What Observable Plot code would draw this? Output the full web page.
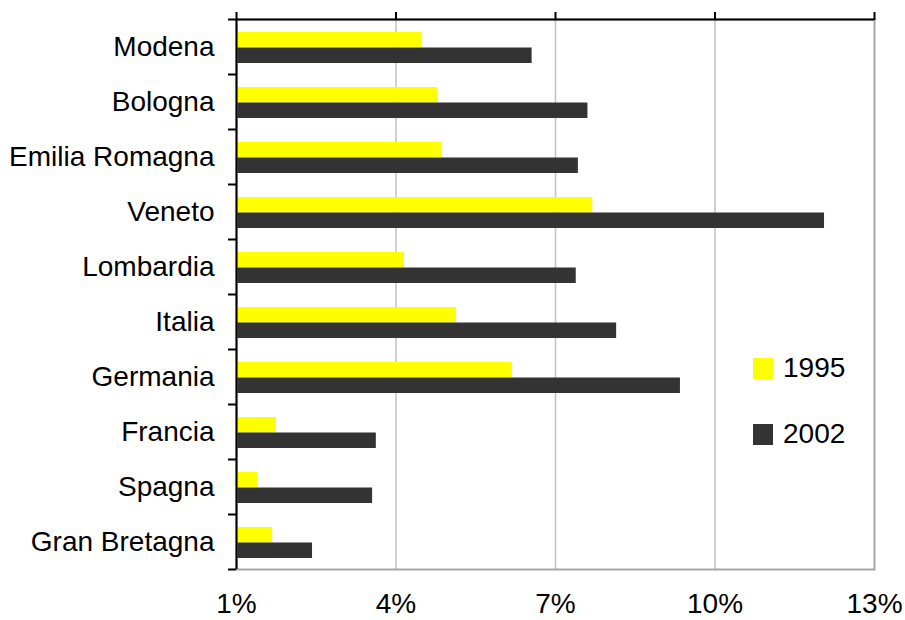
<!DOCTYPE html>
<html>
<head>
<meta charset="utf-8">
<script src="https://cdn.jsdelivr.net/npm/d3@7"></script>
<script src="https://cdn.jsdelivr.net/npm/@observablehq/plot@0.6"></script>
<style>
  body { margin: 0; background: #fff; overflow: hidden; }
  #chart { position: relative; width: 905px; height: 620px; font-family: "Liberation Sans", Arial, sans-serif; }
  #chart svg { display: block; }
  .legend { position: absolute; left: 753px; top: 346px; font-size: 28px; color: #000; }
  .legend .item { display: flex; align-items: center; height: 44px; margin-bottom: 22px; }
  .legend .swatch { width: 20px; height: 21px; margin-right: 10px; }
</style>
</head>
<body>
<div id="chart"></div>
<script>
// Regions and growth rates (%) for the two reference years
const regions = ["Modena", "Bologna", "Emilia Romagna", "Veneto", "Lombardia", "Italia", "Germania", "Francia", "Spagna", "Gran Bretagna"];
const values1995 = [4.49, 4.79, 4.87, 7.70, 4.16, 5.14, 6.19, 1.75, 1.41, 1.68];
const values2002 = [6.56, 7.61, 7.43, 12.06, 7.39, 8.15, 9.35, 3.63, 3.56, 2.43];
const years = ["1995", "2002"];
const yearColors = ["#ffff00", "#333333"];
const xTicks = [1, 4, 7, 10, 13];

const width = 905, height = 620;
const marginTop = 19, marginBottom = 51, marginLeft = 236, marginRight = 31;
const step = (height - marginTop - marginBottom) / regions.length;

const rows1995 = regions.map((region, i) => ({region, year: years[0], value: values1995[i]}));
const rows2002 = regions.map((region, i) => ({region, year: years[1], value: values2002[i]}));

const chart = Plot.plot({
  width, height, marginTop, marginBottom, marginLeft, marginRight,
  style: {fontSize: "28px", fontFamily: "'Liberation Sans', Arial, sans-serif", color: "#000", background: "#fff", overflow: "visible"},
  x: {domain: [xTicks[0], xTicks[xTicks.length - 1]]},
  y: {domain: regions, padding: 0},
  marks: [
    Plot.gridX(xTicks.slice(1, -1), {stroke: "#c0c0c0", strokeOpacity: 1, strokeWidth: 1.5}),
    Plot.barX(rows1995, {y: "region", x1: xTicks[0], x2: "value", fill: yearColors[0], insetTop: 13, insetBottom: 26.5}),
    Plot.barX(rows2002, {y: "region", x1: xTicks[0], x2: "value", fill: yearColors[1], insetTop: 28.5, insetBottom: 11}),
    Plot.frame({stroke: "#a6a6a6", strokeWidth: 2}),
    // black left axis line and top axis line
    Plot.ruleX([xTicks[0]], {stroke: "#000", strokeWidth: 2}),
    Plot.ruleY([regions[0]], {dy: -step / 2, stroke: "#000", strokeWidth: 2}),
    // top tick marks, no labels
    Plot.axisX(xTicks, {anchor: "top", tickSize: 8, fill: "none", label: null, strokeWidth: 2}),
    // bottom percentage labels
    Plot.axisX(xTicks, {anchor: "bottom", tickSize: 0, tickPadding: 24, tickFormat: d => d + "%", label: null}),
    // region labels
    Plot.axisY({tickSize: 0, tickPadding: 22, label: null}),
    // tick marks on the band boundaries
    Plot.axisY(regions, {tickSize: 8, dy: -step / 2, fill: "none", label: null, strokeWidth: 2}),
    Plot.axisY([regions[regions.length - 1]], {tickSize: 8, dy: step / 2, fill: "none", label: null, strokeWidth: 2})
  ]
});

const root = document.getElementById("chart");
root.appendChild(chart);

const legend = document.createElement("div");
legend.className = "legend";
years.forEach((year, i) => {
  const item = document.createElement("div");
  item.className = "item";
  const sw = document.createElement("div");
  sw.className = "swatch";
  sw.style.background = yearColors[i];
  const label = document.createElement("span");
  label.textContent = year;
  item.append(sw, label);
  legend.appendChild(item);
});
root.appendChild(legend);
</script>
</body>
</html>
